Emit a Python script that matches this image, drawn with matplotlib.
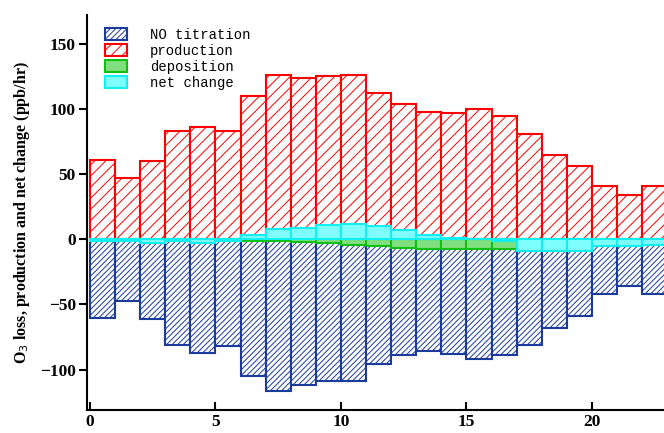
import numpy as np
import matplotlib
matplotlib.use('Agg')
import matplotlib.pyplot as plt

# 每小时的臭氧收支 (ppb/hr)
hours = np.arange(23)
production = [61, 47, 60, 83, 86, 83, 110, 126, 124, 125, 126, 112,
              104, 98, 97, 100, 95, 81, 65, 56, 41, 34, 41]
no_titration = [-60, -47, -61, -81, -87, -82, -105, -116, -112, -109, -109, -96,
                -89, -86, -88, -92, -89, -81, -68, -59, -42, -36, -42]
deposition = [-1, -1, -1, -1, -1, -1, -1, -1.5, -2, -3, -4, -5.5,
              -7, -7.7, -7.7, -7.7, -7.7, -6, -5, -5, -4, -4, -3]
net_change = [-1, -1, -2.5, -1, -2.5, -1, 3, 7.7, 8.7, 11, 12, 10,
              7.5, 3, 1, 0.3, -1.5, -9, -9, -8.7, -5.4, -5.4, -4]

plt.rcParams['hatch.linewidth'] = 0.7
fig = plt.figure(figsize=(6.64, 4.33), dpi=100)
ax = fig.add_axes([0.131, 0.053, 0.869, 0.912])

ax.bar(hours, no_titration, width=1, align='edge', facecolor='white',
       edgecolor='#1a3a9c', hatch='//////', linewidth=1.5, label='NO titration')
ax.bar(hours, production, width=1, align='edge', facecolor='white',
       edgecolor='red', hatch='///', linewidth=1.5, label='production')
ax.bar(hours, deposition, width=1, align='edge', facecolor='#80e080',
       edgecolor='#10c010', linewidth=1.5, label='deposition')
ax.bar(hours, net_change, width=1, align='edge', facecolor='#80ffff',
       edgecolor='#10f0f0', linewidth=1.5, label='net change')

ax.set_xlim(-0.12, 22.87)
ax.set_ylim(-131, 172)
ax.set_xticks([0, 5, 10, 15, 20])
ax.set_yticks([-100, -50, 0, 50, 100, 150])
ax.spines['top'].set_visible(False)
ax.spines['right'].set_visible(False)
ax.spines['left'].set_linewidth(1.5)
ax.spines['bottom'].set_linewidth(1.5)
ax.tick_params(axis='y', direction='out', length=6, width=1.5, pad=2)
ax.tick_params(axis='x', direction='in', length=6, width=1.5, pad=3)
for lab in ax.get_xticklabels() + ax.get_yticklabels():
    lab.set_fontfamily('Liberation Serif')
    lab.set_fontweight('bold')
    lab.set_fontsize(12.5)

ax.set_ylabel('O$_3$ loss, production and net change (ppb/hr)',
              fontfamily='Liberation Serif', fontweight='bold', fontsize=11.5, labelpad=6)

leg = ax.legend(loc='upper left', bbox_to_anchor=(0.01, 1.0), frameon=False,
                prop={'family': 'Liberation Mono', 'size': 10},
                handlelength=1.6, handleheight=0.9, labelspacing=0.15, handletextpad=1.6)

fig.savefig('out.png', dpi=100)
